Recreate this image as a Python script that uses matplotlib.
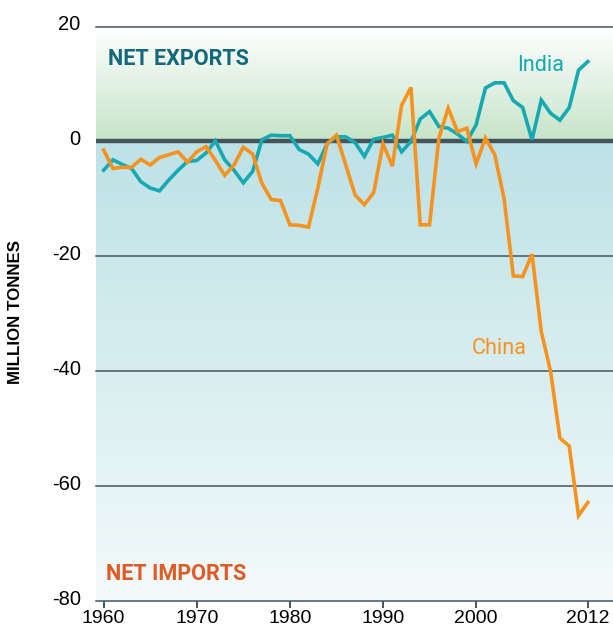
import matplotlib
matplotlib.use("Agg")
import matplotlib.pyplot as plt
import numpy as np
from matplotlib.colors import to_rgb
from matplotlib.transforms import ScaledTranslation

years = np.arange(1960, 2013)
india = [-5.0, -3.2, -4.0, -4.7, -7.0, -8.1, -8.6, -6.7, -5.0, -3.5,
         -3.3, -2.0, 0.1, -3.2, -5.0, -7.2, -5.2, 0.3, 1.1, 1.0,
         1.0, -1.4, -2.2, -3.9, -0.4, 0.8, 0.8, -0.2, -2.6, 0.4,
         0.7, 1.1, -1.8, 0.0, 3.9, 5.2, 2.6, 2.3, 1.3, 0.0,
         2.9, 9.3, 10.2, 10.2, 7.1, 5.9, 0.3, 7.2, 4.9, 3.7,
         5.9, 12.4, 13.9]
china = [-1.5, -4.7, -4.5, -4.5, -3.1, -4.1, -2.8, -2.3, -1.8, -3.6,
         -1.8, -0.9, -3.3, -5.9, -4.1, -1.0, -2.2, -7.3, -10.1, -10.3,
         -14.5, -14.6, -14.9, -8.1, -0.4, 1.1, -4.1, -9.3, -11.0, -8.9,
         -0.4, -4.3, 6.3, 9.4, -14.5, -14.5, 0.6, 5.8, 1.7, 2.3,
         -3.9, 0.6, -2.3, -9.9, -23.4, -23.5, -19.6, -33.1, -40.0, -51.6,
         -53.0, -65.1, -62.8]
xticks = [1960, 1970, 1980, 1990, 2000, 2012]
yticks = [20, 0, -20, -40, -60, -80]

TEAL = "#17a9b2"
ORANGE = "#f7921e"
DARK = "#44555e"

XMIN, XMAX = 1959.18, 2014.7
YMIN, YMAX = -80, 20

fig = plt.figure(figsize=(6.13, 6.32), dpi=100)
ax = fig.add_axes([96 / 613, 30.7 / 632, 517 / 613, 574.8 / 632])


def grad(top, bottom, n=256):
    t = np.linspace(0, 1, n)[:, None]
    a, b = np.array(to_rgb(top)), np.array(to_rgb(bottom))
    return (a * (1 - t) + b * t)[:, None, :]


# background bands: green above zero, blue below
ax.imshow(grad("#ffffff", "#c6e4c9"), extent=[XMIN, XMAX, 0, YMAX],
          aspect="auto", zorder=0, interpolation="bilinear")
ax.imshow(grad("#bde2e6", "#f4fafb"), extent=[XMIN, XMAX, YMIN, 0],
          aspect="auto", zorder=0, interpolation="bilinear")

for y in yticks:
    if y == 0:
        ax.axhline(y, color=DARK, lw=3.2, zorder=1)
    else:
        ax.axhline(y, color=DARK, lw=1.1, zorder=1, clip_on=False)

ax.plot(years, china, color=ORANGE, lw=2.6, zorder=3,
        solid_joinstyle="miter")
ax.plot(years, india, color=TEAL, lw=2.6, zorder=2,
        solid_joinstyle="miter")

ax.set_xlim(XMIN, XMAX)
ax.set_ylim(YMIN, YMAX)
for s in ax.spines.values():
    s.set_visible(False)

ax.set_yticks(yticks)
ax.set_yticklabels([str(v) for v in yticks], fontfamily="Liberation Sans",
                   fontsize=14.5)
ax.tick_params(axis="y", length=0, pad=11)
for lab in ax.get_yticklabels():
    lab.set_transform(lab.get_transform()
                      + ScaledTranslation(0, 4 / 100, fig.dpi_scale_trans))

ax.set_xticks(xticks)
ax.set_xticklabels([str(v) for v in xticks], fontfamily="Liberation Sans",
                   fontsize=14)
ax.tick_params(axis="x", length=5, width=1.4, color=DARK, pad=1)

fig.text(16 / 613, 1 - 312 / 632, "MILLION TONNES", rotation=90,
         ha="center", va="center", fontfamily="Liberation Sans",
         fontweight="bold", fontsize=12.2)

ax.text(1960.5, 14.4, "NET EXPORTS", color="#13687c", fontfamily="Roboto",
        fontweight="bold", fontsize=15.6, ha="left", va="center")
ax.text(1960.3, -75.3, "NET IMPORTS", color="#e05a24", fontfamily="Roboto",
        fontweight="bold", fontsize=15.6, ha="left", va="center")
ax.text(2006.9, 13.2, "India", color=TEAL, fontfamily="Roboto",
        fontsize=15.6, ha="center", va="center")
ax.text(2002.5, -36.0, "China", color=ORANGE, fontfamily="Roboto",
        fontsize=15.6, ha="center", va="center")

fig.savefig("out.png", dpi=100)
